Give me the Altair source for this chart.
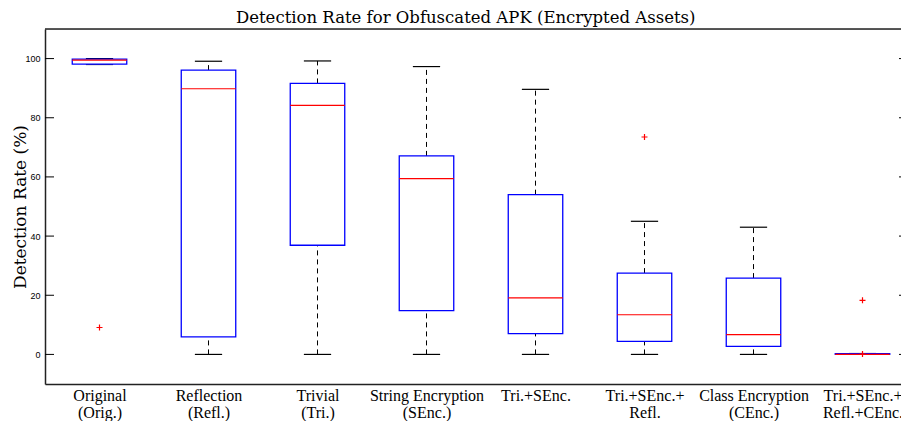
import json
import altair as alt
import pandas as pd

cats = ["Original\n(Orig.)", "Reflection\n(Refl.)", "Trivial\n(Tri.)",
        "String Encryption\n(SEnc.)", "Tri.+SEnc.", "Tri.+SEnc.+\nRefl.",
        "Class Encryption\n(CEnc.)", "Tri.+SEnc.+\nRefl.+CEnc."]
lo  = [98.0, 0.0, 0.0, 0.0, 0.0, 0.0, 0.0, 0.0]
q1  = [98.1, 5.9, 36.9, 14.8, 7.0, 4.4, 2.7, 0.0]
med = [99.5, 89.8, 84.2, 59.4, 19.1, 13.4, 6.7, 0.0]
q3  = [99.8, 96.1, 91.6, 67.1, 54.0, 27.5, 25.8, 0.3]
hi  = [100.0, 99.1, 99.2, 97.3, 89.6, 45.0, 43.0, 0.3]

out_pos = [1, 6, 8, 8]
out_val = [9.1, 73.5, 18.3, 0.1]

yticks = [0, 20, 40, 60, 80, 100]

pos = list(range(1, len(cats) + 1))
df = pd.DataFrame({"pos": pos, "lo": lo, "q1": q1, "med": med, "q3": q3, "hi": hi})
odf = pd.DataFrame({"pos": out_pos, "v": out_val})
tdf = pd.DataFrame({"v": yticks})

W, H = 856, 355
serif_lbl = "Liberation Serif"
serif_ttl = "DejaVu Serif"
BOXHALF = 0.25
CAPHALF = 0.125

label_arr = json.dumps([c.replace("\n", "|") for c in cats])
xscale = alt.Scale(domain=[0.5, 0.5 + W / 109.0], nice=False, zero=False)
yscale = alt.Scale(domain=[-10, 110], nice=False, zero=False)

xax = alt.Axis(values=pos, ticks=False, grid=False, domain=True, domainColor="#222",
               domainWidth=1.5, labelAngle=0,
               labelExpr=f"split({label_arr}[datum.value - 1], '|')",
               labelFont=serif_lbl, labelFontSize=16, labelColor="black",
               labelLineHeight=17, labelPadding=3, labelBaseline="top",
               labelOverlap=False, labelBound=False, labelFlush=False, title=None)
yax = alt.Axis(values=yticks, ticks=False, domain=True, domainColor="#222", domainWidth=1.5,
               grid=False, labelFont="Liberation Sans", labelFontSize=9, labelColor="black",
               labelPadding=5, title="Detection Rate (%)", titleFont=serif_ttl,
               titleFontSize=17, titleFontWeight="normal", titleColor="black",
               titleX=-20, titleY=H / 2, titleBaseline="alphabetic", titleAngle=270)

base = alt.Chart(df).transform_calculate(
    bl=f"datum.pos - {BOXHALF}", br=f"datum.pos + {BOXHALF}",
    cl=f"datum.pos - {CAPHALF}", cr=f"datum.pos + {CAPHALF}")

wlo = base.mark_rule(color="black", strokeDash=[5, 4], strokeWidth=1).encode(
    x=alt.X("pos:Q", scale=xscale, axis=xax),
    y=alt.Y("lo:Q", scale=yscale, axis=yax), y2="q1:Q")
whi = base.mark_rule(color="black", strokeDash=[5, 4], strokeWidth=1).encode(
    x=alt.X("pos:Q", scale=xscale), y=alt.Y("q3:Q", scale=yscale), y2="hi:Q")
caplo = base.mark_rule(color="black", strokeWidth=1.2).encode(
    x=alt.X("cl:Q", scale=xscale), x2="cr:Q", y=alt.Y("lo:Q", scale=yscale))
caphi = base.mark_rule(color="black", strokeWidth=1.2).encode(
    x=alt.X("cl:Q", scale=xscale), x2="cr:Q", y=alt.Y("hi:Q", scale=yscale))
box = base.mark_rect(fill="white", stroke="#0000ff", strokeWidth=1.3).encode(
    x=alt.X("bl:Q", scale=xscale), x2="br:Q", y=alt.Y("q1:Q", scale=yscale), y2="q3:Q")
median = base.mark_rule(color="#ff0000", strokeWidth=1.2).encode(
    x=alt.X("bl:Q", scale=xscale), x2="br:Q", y=alt.Y("med:Q", scale=yscale))

outl = alt.Chart(odf).mark_point(shape="M-1,0L1,0M0,-1L0,1", size=36, color="#ff0000",
                                  strokeWidth=1.2, filled=False, opacity=1).encode(
    x=alt.X("pos:Q", scale=xscale), y=alt.Y("v:Q", scale=yscale))

ltick = alt.Chart(tdf).mark_rule(color="black", strokeWidth=1).encode(
    y=alt.Y("v:Q", scale=yscale), x=alt.value(0), x2=alt.value(9))
rtick = alt.Chart(tdf).mark_rule(color="black", strokeWidth=1).encode(
    y=alt.Y("v:Q", scale=yscale), x=alt.value(W - 2), x2=alt.value(W))
topline = alt.Chart(pd.DataFrame({"v": [110]})).mark_rule(color="#222", strokeWidth=1.5).encode(
    y=alt.Y("v:Q", scale=yscale), x=alt.value(0), x2=alt.value(W))

chart = alt.layer(wlo, whi, caplo, caphi, box, median, outl, ltick, rtick, topline).properties(
    width=W, height=H,
    title=alt.TitleParams("Detection Rate for Obfuscated APK (Encrypted Assets)",
                          font=serif_ttl, fontSize=16.5, fontWeight="normal", color="black",
                          anchor="start", dx=225, offset=2),
    autosize=alt.AutoSizeParams(type="none"),
    padding={"left": 37, "top": 21, "right": 0, "bottom": 37},
).configure_view(stroke=None).configure(background="white")

chart.save("out.html", embed_options={"renderer": "svg", "actions": False})
